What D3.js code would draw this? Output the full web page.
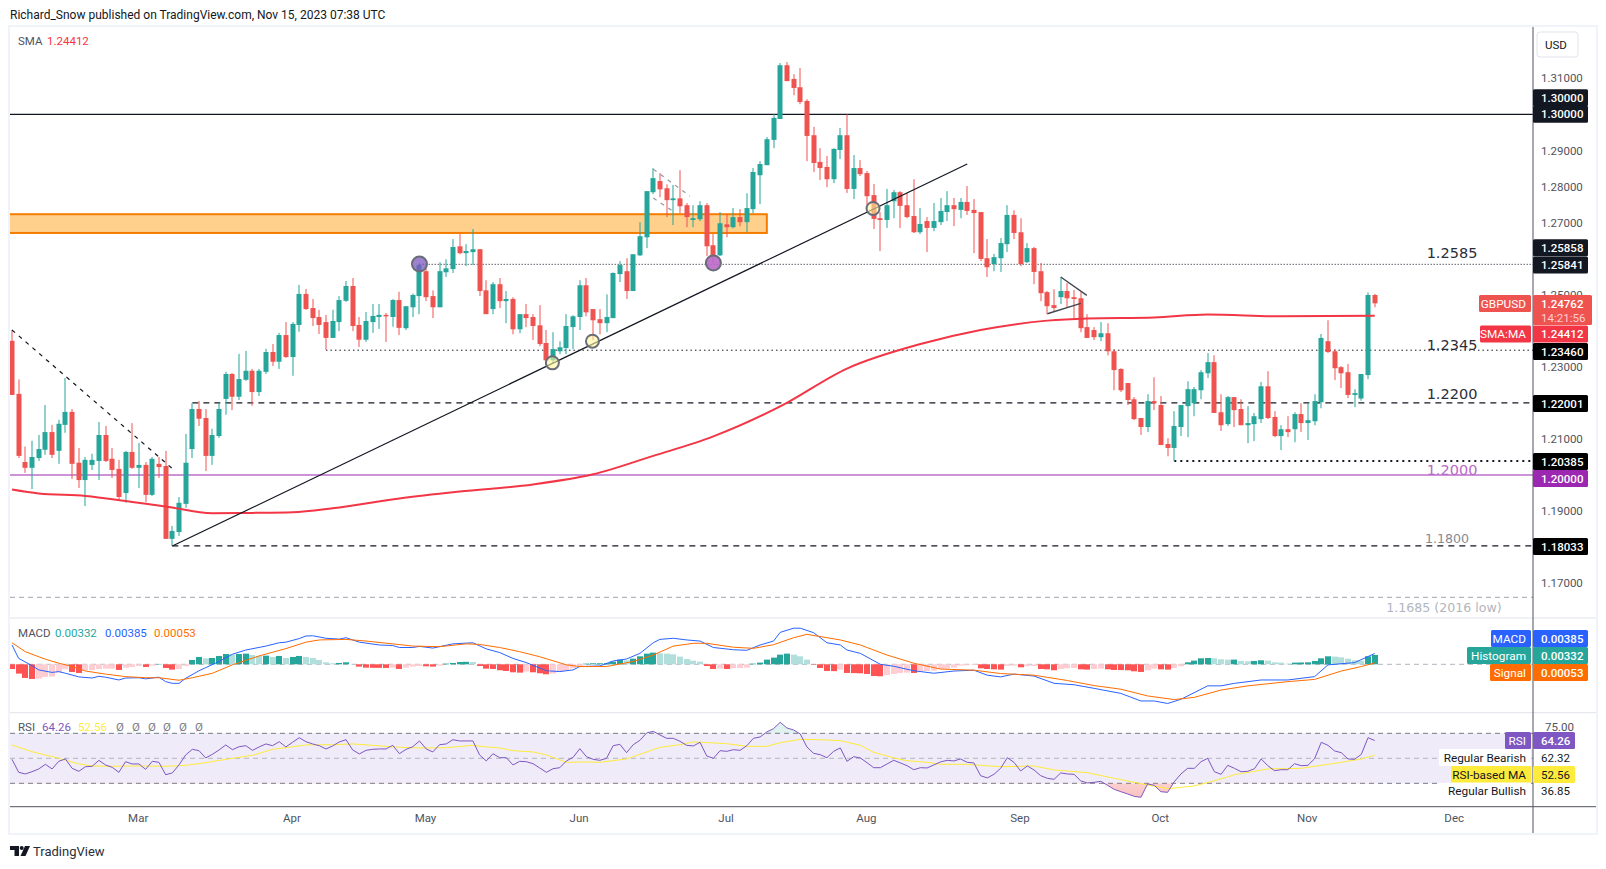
<!DOCTYPE html>
<title>GBPUSD daily</title>
<meta charset="utf-8">
<style>
  body { margin: 0; background: #fff; font-family: Roboto, "Noto Sans", sans-serif; }
  svg { display: block; }
  text { font-family: Roboto, "Noto Sans", sans-serif; }
  .axis text { font-size: 11.5px; fill: #50535e; font-family: Roboto, sans-serif; }
</style>
<body>
<script src="https://d3js.org/d3.v7.min.js"></script>
<script>
  // daily candles, in pips: open, high, low, close. last row is Nov 15 2023
  var ohlc = [
    [12372,12402,12222,12222],[12225,12265,12047,12053],[12036,12079,12006,12020],[12020,12095,11961,12050],[12047,12111,12039,12072],
    [12070,12194,12056,12119],[12119,12139,12047,12056],[12067,12153,12031,12142],[12139,12269,12117,12175],[12175,12183,11989,12031],
    [12034,12075,11964,11986],[11986,12050,11914,12042],[12028,12059,12014,12042],[12039,12147,11986,12111],[12111,12136,12036,12039],
    [12045,12075,11992,12014],[12017,12042,11931,11939],[11950,12067,11923,12064],[12064,12144,12017,12020],[12020,12089,11964,12028],
    [12028,12036,11925,11945],[11945,12050,11942,12045],[12031,12050,11992,12022],[12025,12067,11823,11823],[11823,11859,11803,11845],
    [11842,11939,11831,11923],[11920,12114,11909,12034],[12072,12199,12047,12183],[12183,12205,12136,12156],[12158,12183,12011,12053],
    [12053,12128,12028,12111],[12108,12199,12103,12183],[12211,12286,12167,12280],[12280,12283,12180,12217],[12217,12336,12208,12266],
    [12264,12344,12261,12289],[12289,12294,12192,12230],[12230,12294,12219,12289],[12286,12350,12280,12341],[12341,12363,12302,12314],
    [12314,12394,12294,12388],[12388,12424,12325,12327],[12327,12424,12275,12419],[12416,12527,12397,12502],[12502,12516,12458,12460],
    [12463,12488,12413,12435],[12438,12458,12391,12416],[12424,12444,12347,12380],[12380,12458,12380,12427],[12424,12496,12399,12485],
    [12483,12538,12480,12524],[12524,12546,12399,12413],[12416,12438,12355,12375],[12375,12452,12369,12427],[12424,12474,12394,12441],
    [12438,12474,12405,12444],[12444,12449,12369,12441],[12438,12488,12411,12485],[12485,12508,12388,12408],[12407,12468,12402,12468],
    [12465,12503,12438,12499],[12496,12586,12446,12582],[12565,12586,12482,12493],[12496,12512,12435,12465],[12465,12590,12465,12565],
    [12562,12598,12549,12573],[12571,12654,12560,12632],[12634,12668,12612,12615],[12615,12640,12579,12621],[12618,12682,12582,12626],
    [12626,12626,12496,12510],[12512,12540,12446,12446],[12460,12535,12446,12529],[12529,12546,12463,12482],[12482,12510,12421,12488],
    [12488,12493,12390,12404],[12404,12446,12393,12446],[12446,12474,12410,12435],[12438,12446,12374,12413],[12415,12471,12357,12363],
    [12366,12402,12305,12318],[12318,12396,12309,12349],[12343,12371,12335,12354],[12352,12446,12335,12413],[12410,12443,12349,12440],
    [12438,12540,12402,12526],[12526,12546,12440,12451],[12460,12460,12374,12429],[12432,12460,12390,12421],[12421,12501,12396,12438],
    [12435,12562,12435,12560],[12557,12593,12535,12582],[12565,12601,12488,12510],[12510,12612,12510,12612],[12609,12701,12607,12662],
    [12659,12787,12629,12787],[12784,12851,12779,12823],[12815,12837,12770,12792],[12795,12806,12715,12762],[12762,12804,12693,12767],
    [12767,12845,12726,12745],[12748,12754,12687,12715],[12707,12748,12687,12712],[12709,12759,12704,12748],[12748,12754,12607,12634],
    [12637,12668,12586,12607],[12609,12729,12607,12698],[12695,12723,12659,12687],[12687,12740,12684,12715],[12715,12737,12690,12701],
    [12701,12781,12673,12740],[12737,12851,12726,12840],[12831,12870,12751,12862],[12859,12937,12859,12931],[12929,13001,12906,12990],
    [12987,13142,12987,13136],[13136,13145,13092,13092],[13098,13111,13053,13073],[13075,13128,13028,13034],[13037,13042,12870,12940],
    [12942,12965,12840,12865],[12868,12906,12818,12851],[12854,12884,12798,12820],[12820,12906,12809,12904],[12901,12962,12876,12942],
    [12942,13000,12782,12793],[12793,12887,12765,12851],[12851,12873,12829,12834],[12837,12843,12748,12773],[12776,12807,12682,12710],
    [12712,12729,12621,12707],[12707,12793,12685,12748],[12759,12790,12712,12784],[12784,12787,12685,12746],[12748,12782,12712,12715],
    [12718,12820,12671,12673],[12673,12740,12668,12696],[12704,12715,12618,12685],[12685,12754,12676,12704],[12701,12768,12693,12732],
    [12729,12787,12704,12748],[12748,12768,12690,12737],[12735,12768,12712,12757],[12757,12801,12721,12732],[12735,12765,12615,12726],
    [12729,12729,12593,12599],[12601,12654,12549,12576],[12585,12613,12565,12604],[12601,12657,12563,12643],[12640,12748,12618,12721],
    [12721,12734,12654,12671],[12673,12712,12579,12585],[12590,12643,12588,12629],[12629,12632,12529,12563],[12565,12588,12482,12504],
    [12507,12510,12446,12468],[12471,12515,12452,12463],[12493,12549,12474,12510],[12510,12532,12463,12490],[12493,12513,12435,12488],
    [12490,12507,12396,12407],[12410,12446,12380,12380],[12402,12410,12374,12382],[12382,12424,12371,12393],[12393,12421,12332,12343],
    [12343,12349,12235,12291],[12294,12296,12230,12235],[12255,12255,12194,12208],[12210,12216,12152,12155],[12158,12158,12111,12133],
    [12133,12224,12119,12205],[12205,12271,12180,12199],[12194,12219,12083,12083],[12086,12102,12052,12075],[12075,12177,12039,12136],
    [12133,12194,12108,12194],[12191,12260,12105,12238],[12199,12244,12163,12238],[12235,12291,12210,12285],[12282,12338,12269,12313],
    [12313,12332,12172,12172],[12174,12224,12122,12138],[12141,12219,12136,12216],[12216,12216,12133,12180],[12183,12210,12138,12138],
    [12138,12191,12088,12144],[12141,12172,12094,12163],[12155,12258,12144,12246],[12246,12288,12155,12158],[12161,12177,12105,12108],
    [12108,12138,12069,12127],[12127,12163,12105,12119],[12127,12174,12091,12169],[12169,12199,12119,12144],[12144,12199,12097,12152],
    [12149,12224,12138,12205],[12202,12391,12185,12380],[12371,12429,12338,12341],[12343,12349,12263,12296],[12299,12302,12241,12282],
    [12285,12308,12213,12222],[12222,12238,12188,12227],[12212,12280,12206,12280],[12277,12506,12266,12499],[12499,12502,12465,12476]
  ];

  // 200 day SMA, bar index and price
  var sma = [[0,1.1960],[4,1.1949],[11,1.1942],[18,1.1925],[23,1.1913],[30,1.1894],[36,1.1895],[42,1.1897],[48,1.1908],[58,1.1935],
    [67,1.1954],[78,1.1974],[87,1.2002],[96,1.2053],[105,1.2107],[115,1.2190],[125,1.2295],[136,1.2363],[145,1.2402],[155,1.2428],
    [161,1.2434],[171,1.2437],[179,1.2445],[190,1.2440],[204,1.24412]];

  // macd histogram per bar, in thousandths
  var hist = [-1.67,-3.33,-4.88,-5.24,-5.12,-4.52,-4.40,-2.98,-1.79,-2.74,-3.09,-2.14,-2.02,-1.67,-1.55,-1.55,-2.02,-1.19,-0.95,-0.60,
    -0.95,-0.48,0.12,-1.31,-1.90,-1.67,-0.60,1.55,2.62,2.14,2.26,2.98,3.69,3.57,3.69,3.81,3.33,2.98,3.09,2.62,
    2.98,2.26,2.62,2.98,2.62,2.26,1.55,0.71,0.36,0.48,0.71,0.12,-0.83,-1.19,-1.25,-1.27,-1.31,-1.19,-1.67,-1.19,
    -0.83,-0.60,-0.71,-0.83,-0.48,0.24,0.48,0.83,0.89,0.83,-0.60,-1.55,-1.67,-2.14,-2.38,-2.86,-2.98,-2.62,-2.86,-3.21,
    -3.57,-3.33,-2.62,-2.38,-1.43,-0.60,0.24,0.36,0.36,0.42,0.95,1.67,1.43,2.02,2.86,3.81,4.17,3.93,3.81,3.57,
    2.74,1.90,1.31,0.95,-0.60,-1.67,-1.55,-1.67,-1.43,-1.31,-1.19,0.24,0.60,1.67,2.38,3.45,3.81,3.45,2.86,1.67,
    -0.12,-1.31,-2.38,-2.44,-1.90,-3.09,-3.15,-3.21,-3.45,-4.17,-4.28,-3.81,-3.45,-3.09,-2.98,-3.09,-2.74,-2.38,-2.26,-1.67,
    -1.55,-1.19,-0.48,-0.36,-0.24,-1.43,-1.67,-1.79,-1.90,-0.60,-0.48,-1.07,-0.71,-0.65,-1.67,-1.79,-2.14,-1.67,-1.43,-1.31,
    -1.79,-1.90,-1.67,-1.55,-1.79,-2.02,-2.08,-2.14,-2.50,-2.74,-2.14,-1.55,-1.79,-1.90,-1.31,-0.71,0.71,1.31,2.14,2.26,
    2.14,1.79,1.67,1.67,1.19,1.07,1.19,1.43,1.31,0.71,0.60,0.24,0.60,0.65,0.71,1.19,2.14,2.86,2.74,2.50,
    2.02,1.43,1.31,2.86,3.32];

  var macdLine = [[0,6.9],[1,2.1],[3,-0.5],[4,-2.0],[6,-2.9],[7,-2.6],[8,-3.2],[10,-4.5],[12,-4.9],[13,-4.3],[14,-4.6],[16,-5.6],[17,-4.9],
    [19,-4.8],[20,-5.2],[22,-4.6],[23,-6.2],[24,-6.8],[25,-6.8],[26,-5.0],[28,-2.3],[29,-1.2],[31,1.0],[33,3.6],[35,5.1],[38,6.5],[40,7.7],
    [41,7.9],[43,9.2],[44,10.1],[45,10.2],[47,9.3],[49,9.0],[50,9.5],[52,7.9],[55,6.9],[57,6.7],[58,6.0],[60,6.0],[61,6.4],[63,5.8],[66,7.3],
    [69,7.7],[71,5.5],[73,4.2],[75,2.1],[77,0.6],[80,-2.3],[82,-2.6],[84,-2.0],[85,-0.8],[88,-0.6],[90,1.2],[92,1.9],[94,3.9],[96,7.7],[97,8.9],
    [99,9.3],[101,8.7],[103,8.3],[105,6.0],[108,5.2],[110,5.0],[112,6.9],[114,8.3],[115,11.4],[117,12.9],[118,12.9],[120,11.3],[122,7.7],[124,6.9],
    [125,5.1],[127,3.9],[130,0],[132,-0.7],[135,-2.3],[138,-3.2],[141,-2.4],[144,-2.1],[146,-3.9],[148,-4.5],[150,-3.5],[153,-4.2],[156,-6.8],
    [159,-7.3],[162,-8.6],[166,-10.4],[169,-13.1],[171,-13.1],[173,-14.0],[175,-12.5],[179,-7.7],[181,-7.7],[183,-6.8],[187,-5.6],[191,-5.6],
    [195,-4.4],[197,-0.2],[201,0.6],[204,3.85]];

  var signalLine = [[0,7.7],[2,4.5],[5,1.8],[7,0.4],[9,-0.8],[11,-2.4],[14,-3.5],[17,-4.4],[20,-4.8],[22,-4.8],[25,-5.7],[27,-4.8],[30,-3.2],
    [33,-0.2],[37,3.0],[41,5.6],[44,7.9],[46,8.7],[50,8.9],[53,8.3],[57,7.3],[60,6.5],[64,6.3],[68,7.3],[70,7.1],[73,6.0],[76,4.5],[79,2.7],
    [83,-0.2],[85,-0.8],[89,-0.8],[93,1.0],[96,3.3],[99,6.5],[102,7.5],[104,7.5],[108,6.1],[111,5.7],[114,7.0],[117,9.5],[119,10.7],[124,8.7],
    [127,6.9],[131,3.3],[135,0.4],[139,-1.7],[144,-2.1],[148,-3.3],[153,-3.9],[158,-5.8],[162,-7.6],[166,-8.9],[170,-11.3],[174,-12.6],[177,-11.8],
    [181,-9.2],[185,-7.7],[191,-6.2],[195,-5.4],[199,-2.4],[202,-0.8],[204,0.53]];

  var rsi = [49.2,38.8,37.5,39.3,41.5,45.2,41.5,47.6,49.5,42.0,39.6,43.3,43.6,48.4,44.7,42.8,38.8,47.3,45.5,45.5,
    41.2,47.6,46.8,36.9,38.3,44.7,52.7,57.2,56.1,50.3,53.2,56.7,60.7,56.9,59.3,60.1,56.4,59.1,61.5,60.1,
    63.3,59.1,62.8,66.5,63.3,61.5,60.1,57.5,59.9,63.1,64.9,56.7,53.5,56.4,57.2,57.5,57.5,60.4,53.7,57.2,
    59.3,63.9,57.5,55.1,60.9,61.5,64.9,63.9,63.9,63.9,52.7,47.9,53.7,50.5,50.5,44.7,47.6,47.3,45.7,42.3,
    38.8,41.7,42.5,47.9,50.8,57.7,51.3,49.2,48.4,50.0,60.1,61.2,54.5,60.9,64.4,70.3,71.6,68.7,66.0,66.0,
    63.6,60.4,59.9,62.8,51.9,50.0,56.1,55.6,56.9,56.4,60.1,66.0,67.1,71.1,73.7,78.8,74.3,72.7,69.5,59.1,
    54.0,52.9,50.5,55.6,58.3,47.6,51.3,50.3,46.5,42.5,42.5,45.5,48.4,46.3,44.1,40.9,42.5,42.3,44.7,47.1,
    48.4,47.9,49.5,46.8,46.3,36.1,34.3,37.2,42.0,50.5,46.8,39.9,43.9,40.7,36.1,34.0,33.2,38.3,37.5,37.2,
    31.9,30.3,30.8,31.6,28.4,25.2,23.3,21.5,19.6,18.8,29.5,28.4,23.3,22.8,31.3,37.5,42.0,42.0,47.3,50.0,
    39.3,37.2,44.4,42.0,39.3,39.6,41.7,49.5,44.1,40.1,40.9,40.9,45.7,44.1,44.4,49.7,62.8,60.4,55.9,54.5,
    49.5,49.2,53.2,66.5,64.26];

  var rsiMa = [[0,60.7],[3,55.3],[7,50],[10,45.5],[12,43.9],[15,43.6],[19,43.9],[23,43.6],[26,44.4],[29,46.5],[32,49.2],[36,52.4],[39,57.2],[41,58.5],
    [44,60.7],[48,60.9],[51,61.5],[54,60.4],[57,59.1],[61,58.3],[65,58.5],[69,60.4],[71,59.1],[73,58.3],[75,56.1],[78,55.1],[80,52.7],[83,46.8],
    [86,47.1],[88,46.8],[92,49.5],[94,53.2],[97,58.8],[100,60.9],[102,63.1],[105,62.3],[107,61.7],[110,59.6],[113,59.6],[115,62.5],[118,65.2],
    [121,64.9],[124,64.1],[127,60.4],[129,54.8],[132,50.3],[134,48.1],[137,46.8],[139,45.2],[143,45.2],[145,44.4],[148,43.3],[153,43.9],[156,40.7],
    [161,38.5],[165,34.0],[169,29.7],[173,25.7],[177,27.9],[181,33.5],[183,36.9],[188,41.5],[193,42],[199,46.8],[202,49.5],[204,52.56]];

  var left = 10, right = 1533, paneTop = 27, mainBottom = 618, macdBottom = 712.7, timeTop = 806.7, bottom = 833;
  var up = "#26a69a", down = "#ef5350", dark = "#131722";

  var svg = d3.select("body").append("svg").attr("width", 1606).attr("height", 869);

  // frame
  svg.append("rect").attr("x", left - 1).attr("y", paneTop - 1).attr("width", 1588).attr("height", bottom - paneTop + 2)
      .attr("fill", "#fff").attr("stroke", "#f0f3fa").attr("stroke-width", 2);

  // scales: bar index to x, then one y scale per pane
  var x = d3.scaleLinear().domain([0, 204]).range([12, 1374.7]);
  var y = d3.scaleLinear().domain([1.16036, 1.3242]).range([mainBottom, paneTop]);
  var yMacd = d3.scaleLinear().domain([-17.29, 16.54]).range([macdBottom, mainBottom]);
  var yRsi = d3.scaleLinear().domain([11.3, 86.5]).range([timeTop, macdBottom]);

  var defs = svg.append("defs");
  defs.append("clipPath").attr("id", "clipMain").append("rect")
      .attr("x", left).attr("y", paneTop).attr("width", right - left).attr("height", mainBottom - paneTop);
  defs.append("clipPath").attr("id", "clipLow").append("rect")
      .attr("x", left).attr("y", yRsi(30)).attr("width", right - left).attr("height", timeTop - yRsi(30));
  defs.append("clipPath").attr("id", "clipHigh").append("rect")
      .attr("x", left).attr("y", macdBottom).attr("width", right - left).attr("height", yRsi(70) - macdBottom);
  defs.append("clipPath").attr("id", "clipAll").append("rect")
      .attr("x", left).attr("y", paneTop).attr("width", right - left).attr("height", timeTop - paneTop);
  var grad = defs.append("linearGradient").attr("id", "lowFill").attr("x1", 0).attr("x2", 0).attr("y1", 0).attr("y2", 1);
  grad.append("stop").attr("offset", "0%").attr("stop-color", "#ffcdd2").attr("stop-opacity", 0.2);
  grad.append("stop").attr("offset", "100%").attr("stop-color", "#ef5350").attr("stop-opacity", 0.35);

  // pane separators
  [mainBottom, macdBottom].forEach(function(v) {
    svg.append("line").attr("x1", left).attr("x2", 1596).attr("y1", v).attr("y2", v).attr("stroke", "#e0e3eb").attr("stroke-width", 1);
  });

  // main pane
  var main = svg.append("g").attr("clip-path", "url(#clipMain)");

  // supply zone goes under the candles
  main.append("rect").attr("x", left - 5).attr("y", y(1.2723)).attr("width", x(113) - left + 5).attr("height", y(1.2671) - y(1.2723))
      .attr("fill", "#ffcf8c").attr("stroke", "#f57c00").attr("stroke-width", 2);

  function seg(g, a, b, color, w, dash) {
    return g.append("line").attr("x1", x(a[0])).attr("y1", y(a[1])).attr("x2", x(b[0])).attr("y2", y(b[1]))
        .attr("stroke", color).attr("stroke-width", w).attr("stroke-dasharray", dash || null);
  }
  function hline(g, from, price, color, w, dash) {
    return g.append("line").attr("x1", from).attr("x2", right).attr("y1", y(price)).attr("y2", y(price))
        .attr("stroke", color).attr("stroke-width", w).attr("stroke-dasharray", dash || null);
  }

  // horizontal levels
  hline(main, left, 1.3, dark, 1.2);
  hline(main, x(61), 1.25841, "#5d606b", 1, "1.5 1.5");
  hline(main, x(47), 1.2346, dark, 1, "1.5 3");
  hline(main, x(27), 1.22001, dark, 1.2, "6 5");
  hline(main, x(174), 1.20385, dark, 2, "2 4");
  hline(main, left, 1.2, "#9c27b0", 1.2);
  hline(main, x(24), 1.18033, dark, 1.2, "6 5");
  hline(main, left, 1.1661, "#b2b5be", 1.2, "5 4");

  // candles
  var c = main.selectAll(".candle").data(ohlc).enter().append("g").attr("class", "candle");
  c.append("rect")
      .attr("x", function(d, i) { return Math.round(x(i)) - 0.5; })
      .attr("width", 1)
      .attr("y", function(d) { return y(d[1] / 10000); })
      .attr("height", function(d) { return Math.max(1, y(d[2] / 10000) - y(d[1] / 10000)); })
      .attr("fill", function(d) { return d[3] >= d[0] ? up : down; });
  c.append("rect")
      .attr("x", function(d, i) { return Math.round(x(i)) - 2.5; })
      .attr("width", 5)
      .attr("y", function(d) { return y(Math.max(d[0], d[3]) / 10000); })
      .attr("height", function(d) { return Math.max(1.5, y(Math.min(d[0], d[3]) / 10000) - y(Math.max(d[0], d[3]) / 10000)); })
      .attr("fill", function(d) { return d[3] >= d[0] ? up : down; });

  // 200 sma
  var smaPath = d3.line().x(function(d) { return x(d[0]); }).y(function(d) { return y(d[1]); }).curve(d3.curveMonotoneX);
  main.append("path").datum(sma).attr("d", smaPath).attr("fill", "none").attr("stroke", "#f23645").attr("stroke-width", 2);

  // trend lines and drawings
  seg(main, [24, 1.1803], [143, 1.2862], dark, 1.2);
  seg(main, [0, 1.2402], [24, 1.2018], dark, 1.2, "4 5");
  seg(main, [96, 1.2848], [101.5, 1.2773], "#9598a1", 1.2, "4 5");
  seg(main, [96, 1.2768], [99.3, 1.2727], "#9598a1", 1.2, "4 5");
  seg(main, [157, 1.2549], [160.9, 1.2498], "#434651", 1.4);
  seg(main, [155, 1.2447], [160, 1.2476], "#434651", 1.4);

  var marks = [
    {i: 61, p: 1.2585, r: 7.5, fill: "rgba(126,87,194,0.75)"},
    {i: 105, p: 1.2588, r: 7.5, fill: "rgba(186,104,200,0.9)"},
    {i: 80.9, p: 1.2311, r: 6.5, fill: "rgba(255,245,157,0.6)"},
    {i: 86.9, p: 1.2371, r: 6.5, fill: "rgba(255,245,157,0.6)"},
    {i: 128.9, p: 1.2739, r: 6.5, fill: "rgba(255,245,157,0.6)"}
  ];
  main.selectAll(".mark").data(marks).enter().append("circle").attr("class", "mark")
      .attr("cx", function(d) { return x(d.i); })
      .attr("cy", function(d) { return y(d.p); })
      .attr("r", function(d) { return d.r; })
      .attr("fill", function(d) { return d.fill; })
      .attr("stroke", "#6a6d78").attr("stroke-width", 2);

  // level captions
  var caps = [
    ["1.2585", 1452, 253, "#2a2e39", 14.5], ["1.2345", 1452, 345, "#2a2e39", 14.5], ["1.2200", 1452, 394, "#2a2e39", 14.5],
    ["1.2000", 1452, 470, "#ba68c8", 14.5], ["1.1800", 1447, 538, "#868993", 12.6], ["1.1685 (2016 low)", 1444, 607, "#b2b5be", 12.6]
  ];
  svg.selectAll(".cap").data(caps).enter().append("text").attr("class", "cap")
      .attr("x", function(d) { return d[1]; }).attr("y", function(d) { return d[2]; }).attr("dy", ".36em")
      .attr("text-anchor", "middle").attr("fill", function(d) { return d[3]; })
      .style("font-size", function(d) { return d[4] + "px"; })
      .style("font-family", "'DejaVu Sans', sans-serif")
      .text(function(d) { return d[0]; });

  // macd pane
  var macdG = svg.append("g").attr("clip-path", "url(#clipAll)");
  macdG.append("line").attr("x1", left).attr("x2", right).attr("y1", yMacd(0)).attr("y2", yMacd(0))
      .attr("stroke", "#b2b5be").attr("stroke-dasharray", "5 4");
  macdG.selectAll(".bar").data(hist).enter().append("rect").attr("class", "bar")
      .attr("x", function(d, i) { return Math.round(x(i)) - 3; })
      .attr("width", 6)
      .attr("y", function(d) { return d > 0 ? yMacd(d) : yMacd(0); })
      .attr("height", function(d) { return Math.abs(yMacd(d) - yMacd(0)); })
      .attr("fill", function(d, i) {
        var prev = i ? hist[i - 1] : 0;
        if (d >= 0) return d >= prev && d > 0 ? up : "#b2dfdb";
        return d < prev ? "#ff5252" : "#ffcdd2";
      });
  var ptLine = function(sc) { return d3.line().x(function(d) { return x(d[0]); }).y(function(d) { return sc(d[1]); }); };
  macdG.append("path").datum(macdLine).attr("d", ptLine(yMacd)).attr("fill", "none").attr("stroke", "#2962ff").attr("stroke-width", 1);
  macdG.append("path").datum(signalLine).attr("d", ptLine(yMacd)).attr("fill", "none").attr("stroke", "#ff6d00").attr("stroke-width", 1);

  // rsi pane
  var rsiG = svg.append("g");
  rsiG.append("rect").attr("x", left).attr("width", right - left).attr("y", yRsi(70)).attr("height", yRsi(30) - yRsi(70))
      .attr("fill", "#7e57c2").attr("fill-opacity", 0.12);
  [[70, "#787b86"], [50, "#b2b5be"], [30, "#787b86"]].forEach(function(d) {
    rsiG.append("line").attr("x1", left).attr("x2", right).attr("y1", yRsi(d[0])).attr("y2", yRsi(d[0]))
        .attr("stroke", d[1]).attr("stroke-dasharray", "5 4");
  });
  var rsiArea = function(base) {
    return d3.area().x(function(d, i) { return x(i); }).y0(yRsi(base)).y1(function(d) { return yRsi(d); });
  };
  rsiG.append("path").datum(rsi).attr("d", rsiArea(30)).attr("clip-path", "url(#clipLow)").attr("fill", "url(#lowFill)");
  rsiG.append("path").datum(rsi).attr("d", rsiArea(70)).attr("clip-path", "url(#clipHigh)").attr("fill", "#26a69a").attr("fill-opacity", 0.15);
  rsiG.append("path").datum(rsiMa).attr("d", ptLine(yRsi)).attr("fill", "none").attr("stroke", "#ffeb3b").attr("stroke-width", 1);
  rsiG.append("path").datum(rsi)
      .attr("d", d3.line().x(function(d, i) { return x(i); }).y(function(d) { return yRsi(d); }))
      .attr("fill", "none").attr("stroke", "#7e57c2").attr("stroke-width", 1);

  // axes
  var priceAxis = d3.axisRight(y).tickValues([1.31, 1.29, 1.28, 1.27, 1.25, 1.23, 1.21, 1.19, 1.17])
      .tickSize(0).tickPadding(8).tickFormat(d3.format(".5f"));
  svg.append("g").attr("class", "axis").attr("transform", "translate(" + right + ",0)").call(priceAxis)
      .call(function(g) { g.select(".domain").remove(); });
  var rsiAxis = d3.axisRight(yRsi).tickValues([75]).tickSize(0).tickPadding(12).tickFormat(d3.format(".2f"));
  svg.append("g").attr("class", "axis").attr("transform", "translate(" + right + ",0)").call(rsiAxis)
      .call(function(g) { g.select(".domain").remove(); });

  var months = {19: "Mar", 42: "Apr", 62: "May", 85: "Jun", 107: "Jul", 128: "Aug", 151: "Sep", 172: "Oct", 194: "Nov", 216: "Dec"};
  var timeAxis = d3.axisBottom(x).tickValues(Object.keys(months).map(Number)).tickSize(0).tickPadding(7)
      .tickFormat(function(d) { return months[d]; });
  svg.append("g").attr("class", "axis").attr("transform", "translate(-1.2," + timeTop + ")").call(timeAxis)
      .call(function(g) { g.select(".domain").remove(); });

  svg.append("line").attr("x1", left).attr("x2", 1596).attr("y1", timeTop).attr("y2", timeTop).attr("stroke", "#50535e");
  svg.append("line").attr("x1", right).attr("x2", right).attr("y1", paneTop).attr("y2", bottom).attr("stroke", "#50535e");

  // price tags on the scale
  function tag(x0, x1, cy, h, fill, txt, color, weight) {
    var g = svg.append("g");
    g.append("rect").attr("x", x0).attr("y", cy - h / 2).attr("width", x1 - x0).attr("height", h).attr("rx", 1.5).attr("fill", fill);
    if (txt) g.append("text").attr("x", x0 + 8).attr("y", cy).attr("dy", ".35em").attr("fill", color || "#fff")
        .style("font-size", "11.5px").style("font-weight", weight || 500).text(txt);
  }
  function leftTag(x0, cy, fill, txt, color) {
    svg.append("rect").attr("x", x0).attr("y", cy - 8.5).attr("width", 1531 - x0).attr("height", 17).attr("rx", 1.5).attr("fill", fill);
    svg.append("text").attr("x", 1526).attr("y", cy).attr("dy", ".35em").attr("text-anchor", "end").attr("fill", color || "#fff")
        .style("font-size", "11.8px").style("font-weight", 400).text(txt);
  }
  tag(1533, 1588, 97.7, 17, dark, "1.30000");
  tag(1533, 1588, 114.3, 17, dark, "1.30000");
  tag(1533, 1588, 247.7, 17, dark, "1.25858");
  tag(1533, 1588, 265, 17, dark, "1.25841");
  tag(1533, 1592, 310, 30, "#ef5350");
  svg.append("text").attr("x", 1541).attr("y", 303.5).attr("dy", ".35em").attr("fill", "#fff").style("font-size", "11.5px").style("font-weight", 500).text("1.24762");
  svg.append("text").attr("x", 1541).attr("y", 317.5).attr("dy", ".35em").attr("fill", "#ffcdd2").style("font-size", "11.5px").text("14:21:56");
  tag(1533, 1588, 334, 17, "#f23645", "1.24412");
  tag(1533, 1588, 351.5, 17, "#000", "1.23460");
  tag(1533, 1588, 403.5, 17, "#000", "1.22001");
  tag(1533, 1588, 461.5, 17, "#000", "1.20385");
  tag(1533, 1588, 478.5, 17, "#9c27b0", "1.20000");
  tag(1533, 1588, 546.5, 17, "#000", "1.18033");
  leftTag(1479, 303.5, "#ef5350", "GBPUSD");
  leftTag(1480, 334, "#f23645", "SMA:MA");

  tag(1533, 1588, 638.5, 17, "#2962ff", "0.00385");
  tag(1533, 1588, 655.5, 17, "#26a69a", "0.00332");
  tag(1533, 1588, 672.5, 17, "#ff6d00", "0.00053");
  leftTag(1491, 638.5, "#2962ff", "MACD");
  leftTag(1467, 655.5, "#26a69a", "Histogram");
  leftTag(1490, 672.5, "#ff6d00", "Signal");

  tag(1533, 1575, 740.5, 17, "#7e57c2", "64.26");
  tag(1533, 1575, 774.5, 17, "#ffeb3b", "52.56", dark, 400);
  leftTag(1505, 740.5, "#7e57c2", "RSI");
  leftTag(1439, 757.5, "#fff", "Regular Bearish", dark);
  leftTag(1451, 774.5, "#ffeb3b", "RSI-based MA", dark);
  leftTag(1439, 791, "#fff", "Regular Bullish", dark);
  svg.append("text").attr("x", 1541).attr("y", 757.5).attr("dy", ".35em").attr("fill", dark).style("font-size", "11.5px").text("62.32");
  svg.append("text").attr("x", 1541).attr("y", 791).attr("dy", ".35em").attr("fill", dark).style("font-size", "11.5px").text("36.85");

  // usd button
  svg.append("rect").attr("x", 1537).attr("y", 32).attr("width", 41).attr("height", 25).attr("rx", 3).attr("fill", "#fff").attr("stroke", "#e0e3eb");
  svg.append("text").attr("x", 1545).attr("y", 44.5).attr("dy", ".35em").attr("fill", dark).style("font-size", "11.5px").text("USD");

  // legends and header
  function legend(x0, yy, txt, color) {
    svg.append("text").attr("x", x0).attr("y", yy).attr("dy", ".35em").attr("fill", color).style("font-size", "11.5px").text(txt);
  }
  svg.append("text").attr("x", 10).attr("y", 15).attr("dy", ".35em").attr("fill", dark).style("font-size", "12px")
      .text("Richard_Snow published on TradingView.com, Nov 15, 2023 07:38 UTC");
  legend(18, 41, "SMA", "#50535e");
  legend(47, 41, "1.24412", "#f23645");
  legend(18, 632.7, "MACD", "#50535e");
  legend(55, 632.7, "0.00332", "#26a69a");
  legend(105, 632.7, "0.00385", "#2962ff");
  legend(154, 632.7, "0.00053", "#ff6d00");
  legend(18, 726.5, "RSI", "#50535e");
  legend(42, 726.5, "64.26", "#7e57c2");
  legend(78, 726.5, "52.56", "#ffeb3b");
  [116, 132, 148, 163, 179, 195].forEach(function(v) { legend(v, 726.5, "\u00D8", "#787b86"); });

  // logo
  var logo = svg.append("g").attr("fill", dark);
  logo.append("path").attr("d", "M10 846h9v10h-4.5v-6h-4.5z");
  logo.append("circle").attr("cx", 21.7).attr("cy", 848).attr("r", 2);
  logo.append("path").attr("d", "M25 846h5l-4.5 10h-5z");
  svg.append("text").attr("x", 33).attr("y", 851.5).attr("dy", ".35em").attr("fill", "#2a2e39").style("font-size", "13px").text("TradingView");
</script>
</body>
